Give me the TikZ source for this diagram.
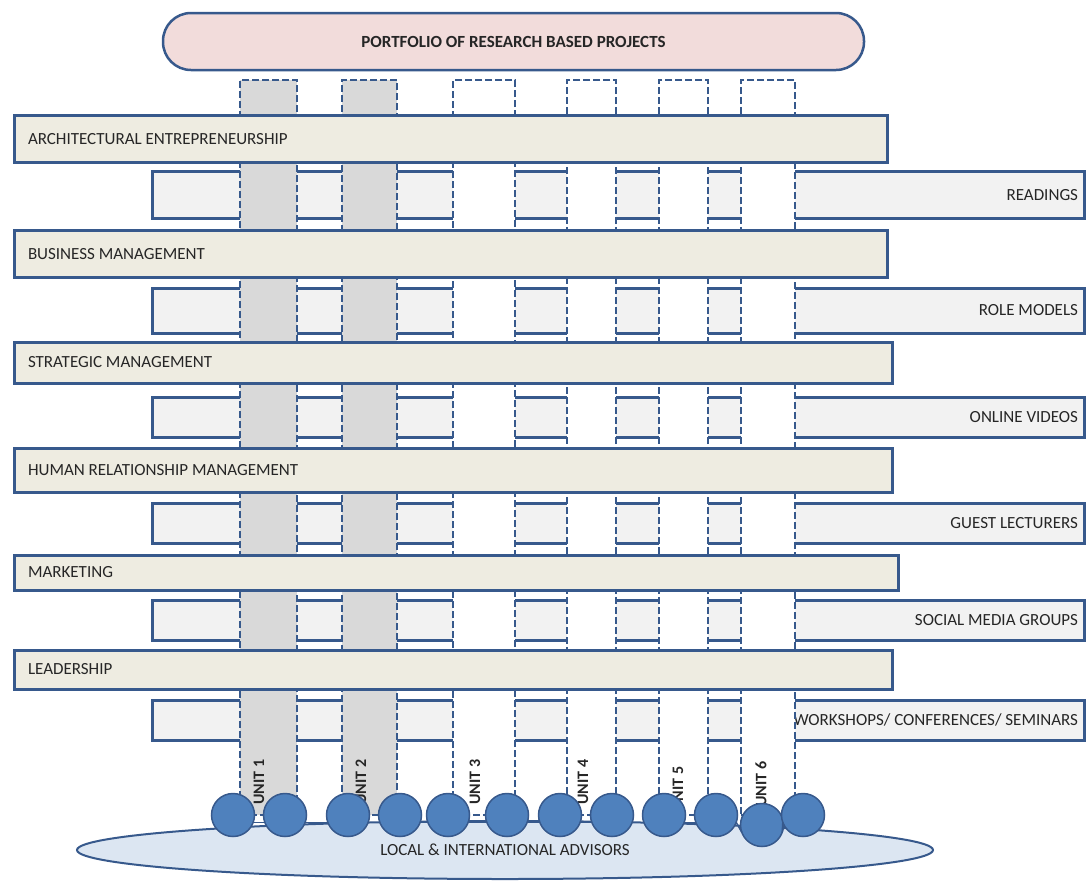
\documentclass[tikz,border=0pt]{standalone}
\usepackage{fontspec}
\setmainfont{Carlito}
\usetikzlibrary{shapes.geometric}
\definecolor{edge}{HTML}{37598C}
\definecolor{barfill}{HTML}{EEECE1}
\definecolor{resfill}{HTML}{F2F2F2}
\definecolor{unitgray}{HTML}{D9D9D9}
\definecolor{titlefill}{HTML}{F2DCDB}
\definecolor{advfill}{HTML}{DCE6F2}
\definecolor{dotfill}{HTML}{4F81BD}
\definecolor{ink}{HTML}{262626}
\begin{document}
\begin{tikzpicture}[x=1pt,y=-1pt,
  every node/.style={inner sep=0pt,outer sep=0pt,text=ink},
  txt/.style={font=\fontsize{17}{20}\selectfont},
  topicbar/.style={draw=edge,line width=3pt,fill=barfill,rectangle},
  resbar/.style={draw=edge,line width=3pt,fill=resfill,rectangle},
  unitcol/.style={draw=edge,line width=2.5pt,dash pattern=on 7pt off 3pt,rectangle,minimum height=735pt,fill=white},
  shaded/.style={fill=unitgray},
  unitlabel/.style={rotate=90,font=\fontsize{16}{18}\selectfont\bfseries},
  advisor/.style={circle,draw=edge,line width=1.5pt,fill=dotfill,minimum size=43pt},
  chain/.style={draw=edge,line width=1.5pt},
  tl/.style={label={[txt,anchor=west,xshift=14pt]west:#1}},
  tr/.style={label={[txt,anchor=east,xshift=-6pt]east:#1}}
]
\useasboundingbox (0,0) rectangle (1086,881);

% resource strips (behind the unit columns)
\node[resbar,minimum width=932pt,minimum height=47pt,tr=READINGS] (rd) at (618,195) {};
\node[resbar,minimum width=932pt,minimum height=45pt,tr=ROLE MODELS] (rm) at (618,310.5) {};
\node[resbar,minimum width=932pt,minimum height=40pt,tr=ONLINE VIDEOS] (ov) at (618,417) {};
\node[resbar,minimum width=932pt,minimum height=40pt,tr=GUEST LECTURERS] (gl) at (618,523) {};
\node[resbar,minimum width=932pt,minimum height=40pt,tr=SOCIAL MEDIA GROUPS] (sg) at (618,620) {};
\node[resbar,minimum width=932pt,minimum height=40pt,tr={WORKSHOPS/ CONFERENCES/ SEMINARS}] (ws) at (618,720) {};

% unit columns
\node[unitcol,shaded,minimum width=57pt] (u1) at (268.5,447.5) {};
\node[unitcol,shaded,minimum width=55pt] (u2) at (369.5,447.5) {};
\node[unitcol,minimum width=62pt] (u3) at (484,447.5) {};
\node[unitcol,minimum width=49pt] (u4) at (591.5,447.5) {};
\node[unitcol,minimum width=49pt] (u5) at (683.5,447.5) {};
\node[unitcol,minimum width=54pt] (u6) at (768,447.5) {};

% topic bars (in front of the columns)
\node[topicbar,minimum width=873pt,minimum height=47pt,tl=ARCHITECTURAL ENTREPRENEURSHIP] (ae) at (450.5,139) {};
\node[topicbar,minimum width=873pt,minimum height=47pt,tl=BUSINESS MANAGEMENT] (bm) at (450.5,254) {};
\node[topicbar,minimum width=878pt,minimum height=41pt,tl=STRATEGIC MANAGEMENT] (sm) at (453,362.5) {};
\node[topicbar,minimum width=878pt,minimum height=44pt,tl=HUMAN RELATIONSHIP MANAGEMENT] (hr) at (453,470) {};
\node[topicbar,minimum width=884pt,minimum height=35pt,tl=MARKETING] (mk) at (456,572.5) {};
\node[topicbar,minimum width=878pt,minimum height=39pt,tl=LEADERSHIP] (ld) at (453,669.5) {};

% title
\node[draw=edge,line width=2.5pt,fill=titlefill,rounded corners=28pt,minimum width=701pt,minimum height=57pt,font=\fontsize{17}{20}\selectfont\bfseries] (title) at (513.5,41.5) {PORTFOLIO OF RESEARCH BASED PROJECTS};

% unit labels
\node[unitlabel] (l1) at (259,782) {UNIT 1};
\node[unitlabel] (l2) at (361,782) {UNIT 2};
\node[unitlabel] (l3) at (475,782) {UNIT 3};
\node[unitlabel] (l4) at (583,782) {UNIT 4};
\node[unitlabel] (l5) at (678,789) {UNIT 5};
\node[unitlabel] (l6) at (761,784) {UNIT 6};

% advisors
\node[ellipse,draw=edge,line width=2pt,fill=advfill,minimum width=856pt,minimum height=58pt,txt] (adv) at (505,850) {\raisebox{-2pt}{LOCAL \& INTERNATIONAL ADVISORS}};

\node[advisor] (k1) at (233,815) {};
\node[advisor] (k2) at (285,815) {};
\node[advisor] (k3) at (348,815) {};
\node[advisor] (k4) at (400,815) {};
\node[advisor] (k5) at (448,815) {};
\node[advisor] (k6) at (507,815) {};
\node[advisor] (k7) at (560,815) {};
\node[advisor] (k8) at (612,815) {};
\node[advisor] (k9) at (664,815) {};
\node[advisor] (k10) at (716,815) {};
\node[advisor] (k11) at (762,825) {};
\node[advisor] (k12) at (803,815) {};

\foreach \a/\b in {k1/k2,k2/k3,k3/k4,k4/k5,k5/k6,k6/k7,k7/k8,k8/k9,k9/k10,k10/k11,k11/k12}
  \draw[chain] (\a.-20) -- (\b.200);
\end{tikzpicture}
\end{document}
